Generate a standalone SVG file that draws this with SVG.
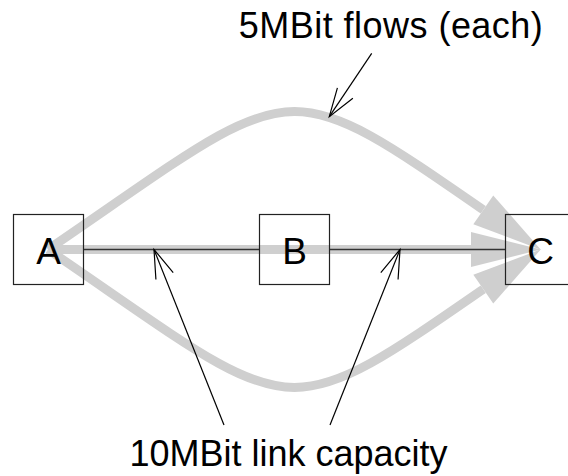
<svg xmlns="http://www.w3.org/2000/svg" width="568" height="476" viewBox="0 0 568 476">
  <style>
    .flow { fill: none; stroke: #cfcfcf; stroke-width: 9; marker-end: url(#flowhead); }
    .link { fill: none; stroke: #333; stroke-width: 1.6; }
    .box { fill: none; stroke: #222; stroke-width: 1.2; }
    .label { font-family: "Liberation Sans", Arial, sans-serif; font-size: 37px; fill: #000; text-anchor: middle; }
    .note { font-family: "Liberation Sans", Arial, sans-serif; font-size: 36px; fill: #000; }
    .pointer { fill: none; stroke: #000; stroke-width: 1.2; marker-end: url(#openhead); }
  </style>
  <defs>
    <marker id="flowhead" markerUnits="userSpaceOnUse" markerWidth="72" markerHeight="38" refX="0" refY="18" orient="auto" viewBox="0 0 72 36" overflow="visible">
      <path d="M0,0.5 L70,18 L0,35.5 Z" fill="#cfcfcf"/>
    </marker>
    <marker id="openhead" markerUnits="userSpaceOnUse" markerWidth="40" markerHeight="24" refX="30" refY="12" orient="auto" viewBox="0 0 40 24" overflow="visible">
      <path d="M1.5,2.7 L30,12 L1.5,21.3" fill="none" stroke="#000" stroke-width="1.2"/>
    </marker>
  </defs>

  <!-- flows and links between the nodes -->
  <g id="connectors">
    <path id="flow-upper" class="flow" d="M48,249.5 C296.9,79.9 276.4,66.6 483.3,209.8"/>
    <path id="flow-middle" class="flow" d="M48,249.5 L471,249.5"/>
    <path id="flow-lower" class="flow" d="M48,249.5 C296.9,419.1 276.4,432.4 483.3,289.2"/>
    <line id="link-ab" class="link" x1="83.5" y1="249.5" x2="259.5" y2="249.5"/>
    <line id="link-bc" class="link" x1="329.5" y1="249.5" x2="505.5" y2="249.5"/>
  </g>

  <g id="node-a">
    <rect class="box" x="13.5" y="214.5" width="70" height="70"/>
    <text class="label" x="48.5" y="264">A</text>
  </g>
  <g id="node-b">
    <rect class="box" x="259.5" y="214.5" width="70" height="70"/>
    <text class="label" x="294.5" y="264">B</text>
  </g>
  <g id="node-c">
    <rect class="box" x="505.5" y="214.5" width="70" height="70"/>
    <text class="label" x="540.5" y="264">C</text>
  </g>

  <!-- annotations -->
  <g id="callouts">
    <line class="pointer" x1="371.7" y1="53.3" x2="329.3" y2="116.7"/>
    <line class="pointer" x1="224" y1="425" x2="154" y2="249.5"/>
    <line class="pointer" x1="330" y1="425" x2="400" y2="249.5"/>
    <text class="note" x="238.8" y="37.5" textLength="304" lengthAdjust="spacing">5MBit flows (each)</text>
    <text class="note" x="129.4" y="465.7">10MBit link capacity</text>
  </g>
</svg>
